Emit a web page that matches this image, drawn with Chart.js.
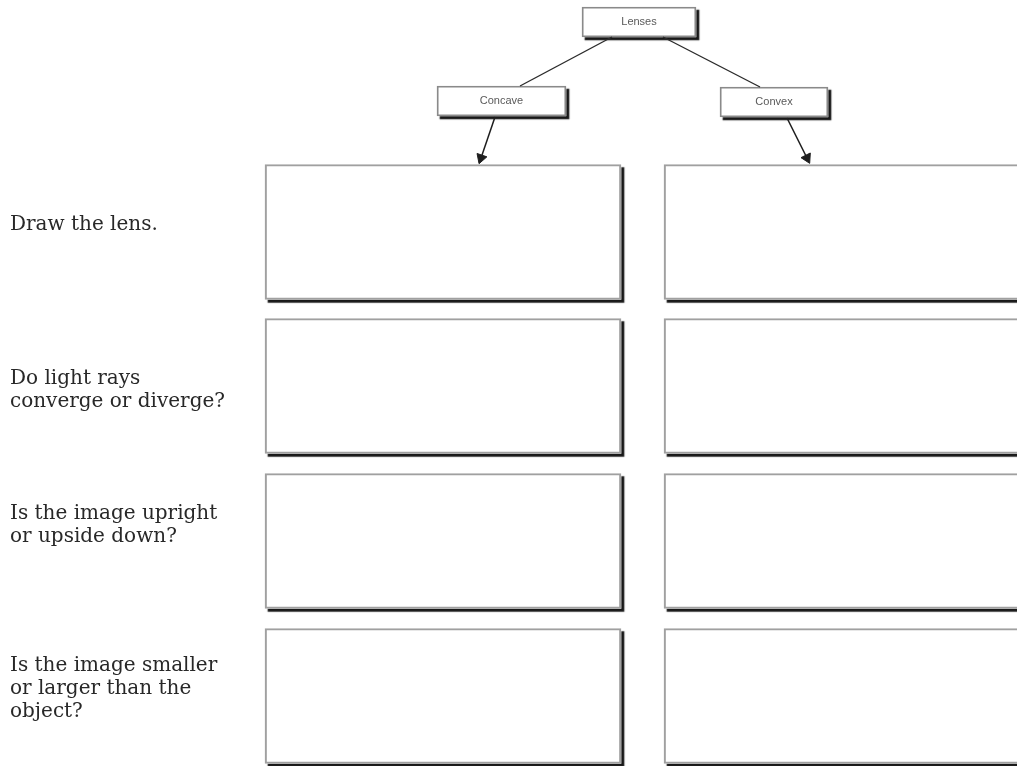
<!DOCTYPE html>
<html>
<head>
<meta charset="utf-8">
<script src="https://cdn.jsdelivr.net/npm/chart.js@4.4.1/dist/chart.umd.min.js"></script>
<style>
  html, body { margin: 0; padding: 0; background: #ffffff; overflow: hidden; }
  #wrap { width: 1017px; height: 766px; position: relative; }
  canvas { display: block; }
</style>
</head>
<body>
<div id="wrap"><canvas id="c" width="1017" height="766"></canvas></div>
<script>
// ---- data (diagram units) ----
const questions = [
  ["Draw the lens."],
  ["Do light rays", "converge or diverge?"],
  ["Is the image upright", "or upside down?"],
  ["Is the image smaller", "or larger than the", "object?"]
];
const labelCenters = [225, 390, 525, 689];
const rowCenters = [232, 386, 541, 696];
const columns = ["Concave", "Convex"];
const columnSpans = [[265, 621], [664, 1026]];

const nodes = ["Lenses", "Concave", "Convex"];
const nodeCenters = [22, 101, 102];
const nodeSpans = [[582, 696], [437, 566], [720, 828]];

const links = [
  [{x: 612, y: 37}, {x: 520, y: 86}],
  [{x: 663, y: 37}, {x: 760, y: 87}]
];
const arrows = [
  [{x: 495, y: 117}, {x: 481, y: 158}],
  [{x: 787, y: 118}, {x: 807, y: 158}]
];

// ---- build datasets ----
function boxData() {
  const out = [];
  columns.forEach((c, ci) => {
    rowCenters.forEach((yc) => out.push({y: yc, x: columnSpans[ci]}));
  });
  return out;
}
const nodeData = nodes.map((n, i) => ({y: nodeCenters[i], x: nodeSpans[i]}));

function rotationFor(seg) {
  const dx = seg[1].x - seg[0].x, dy = seg[1].y - seg[0].y;
  return Math.atan2(dx, -dy) * 180 / Math.PI;
}

const shadowPlugin = {
  id: 'boxShadow',
  beforeDatasetDraw(chart, args) {
    const ds = chart.data.datasets[args.index];
    if (ds._shadow) {
      const ctx = chart.ctx;
      ctx.save();
      ctx.shadowColor = 'rgba(12,12,12,0.95)';
      ctx.shadowOffsetX = 3;
      ctx.shadowOffsetY = 3;
      ctx.shadowBlur = 1;
    }
  },
  afterDatasetDraw(chart, args) {
    const ds = chart.data.datasets[args.index];
    if (ds._shadow) chart.ctx.restore();
  }
};

const nodeLabelPlugin = {
  id: 'nodeLabels',
  afterDatasetsDraw(chart) {
    const idx = chart.data.datasets.findIndex(d => d._nodeFrame);
    const meta = chart.getDatasetMeta(idx);
    const ctx = chart.ctx;
    ctx.save();
    ctx.font = '11px "Liberation Sans", Arial, sans-serif';
    ctx.fillStyle = '#5a5a5a';
    ctx.textAlign = 'center';
    ctx.textBaseline = 'middle';
    meta.data.forEach((el, i) => {
      const p = el.getProps(['x', 'y', 'base'], true);
      ctx.fillText(nodes[i], (p.x + p.base) / 2, p.y);
    });
    ctx.restore();
  }
};

const lineDatasets = [];
links.forEach(seg => lineDatasets.push({
  type: 'line', data: seg, borderColor: '#2b2b2b', borderWidth: 1.4,
  pointRadius: 0, fill: false, order: 0, clip: false
}));
arrows.forEach(seg => lineDatasets.push({
  type: 'line', data: seg, borderColor: '#1e1e1e', borderWidth: 1.5,
  pointRadius: [0, 6], pointStyle: 'triangle',
  pointRotation: [0, rotationFor(seg)],
  pointBackgroundColor: '#1e1e1e', pointBorderColor: '#1e1e1e', pointBorderWidth: 1,
  fill: false, order: 0, clip: false
}));

new Chart(document.getElementById('c'), {
  type: 'bar',
  data: {
    datasets: [
      { label: 'boxes', data: boxData(), backgroundColor: '#ffffff', borderWidth: 0,
        barThickness: 135, grouped: false, order: 5, _shadow: true, clip: false },
      { label: 'frames', data: boxData(), backgroundColor: 'rgba(0,0,0,0)', borderColor: '#a0a0a0',
        borderWidth: 1.5, borderSkipped: false, barThickness: 135, grouped: false, order: 4, clip: false },
      { label: 'nodes', data: nodeData, backgroundColor: '#ffffff', borderWidth: 0,
        barThickness: 30, grouped: false, order: 3, _shadow: true, clip: false },
      { label: 'nodeFrames', data: nodeData, backgroundColor: 'rgba(0,0,0,0)', borderColor: '#8a8a8a',
        borderWidth: 1.2, borderSkipped: false, barThickness: 30, grouped: false, order: 2,
        _nodeFrame: true, clip: false },
      ...lineDatasets
    ]
  },
  options: {
    indexAxis: 'y',
    responsive: false,
    maintainAspectRatio: false,
    animation: false,
    events: [],
    layout: { autoPadding: false, padding: { left: 10, right: 0, top: 0, bottom: 0 } },
    plugins: { legend: { display: false }, tooltip: { enabled: false } },
    scales: {
      x: { type: 'linear', display: false, min: 250, max: 1017, offset: false },
      y: {
        type: 'linear', reverse: true, min: 0, max: 766, offset: false,
        grid: { display: false, drawTicks: false }, border: { display: false },
        afterBuildTicks(scale) { scale.ticks = labelCenters.map(v => ({value: v})); },
        afterFit(scale) { scale.width = 240; scale.paddingTop = 0; scale.paddingBottom = 0; },
        ticks: {
          autoSkip: false, crossAlign: 'far', padding: 0,
          color: '#282828',
          font: { family: '"DejaVu Serif", "Liberation Serif", serif', size: 20, lineHeight: 1.15 },
          callback(value) {
            const i = labelCenters.indexOf(value);
            return i >= 0 ? questions[i] : '';
          }
        }
      }
    }
  },
  plugins: [shadowPlugin, nodeLabelPlugin]
});
</script>
</body>
</html>
